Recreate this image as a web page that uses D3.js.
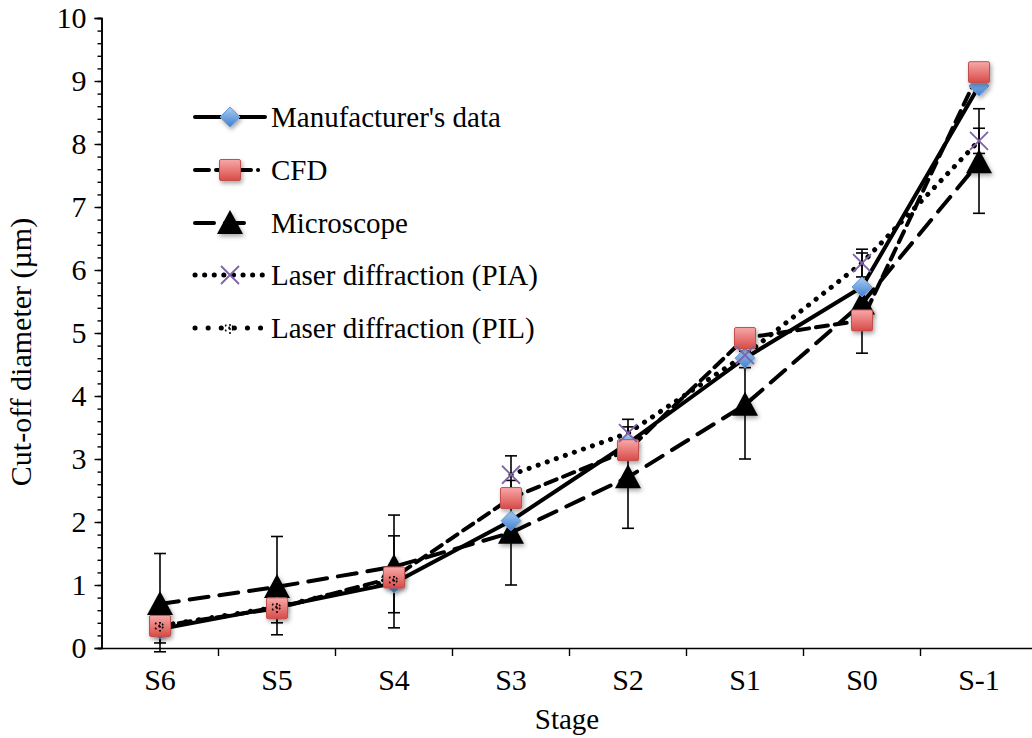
<!DOCTYPE html>
<html><head><meta charset="utf-8">
<script src="https://cdn.jsdelivr.net/npm/d3@7"></script>
<style>
html,body{margin:0;padding:0;background:#fff;}
svg{display:block;font-family:"Liberation Serif","Times New Roman",serif;}
</style></head>
<body>
<svg id="chart" width="1032" height="738"></svg>
<script>
// ---- data ----
const stages = ["S6","S5","S4","S3","S2","S1","S0","S-1"];
const manufacturer = [0.30, 0.65, 1.03, 2.02, 3.25, 4.60, 5.73, 8.92];
const cfd          = [0.35, 0.63, 1.12, 2.38, 3.14, 4.92, 5.20, 9.14];
const microscope   = [0.70, 0.97, 1.29, 1.83, 2.71, 3.86, 5.47, 7.71];
const microPlus    = [0.80, 0.80, 0.82, 0.83, 0.80, 0.85, 0.80, 0.85];
const microMinus   = [0.76, 0.76, 0.97, 0.83, 0.81, 0.86, 0.79, 0.81];
const pia          = [null, null, null, 2.75, 3.41, 4.65, 6.11, 8.05];
const piaErr       = [null, null, null, 0.30, 0.22, 0.20, 0.22, 0.20];
const pil          = [0.35, 0.65, 1.08, null, null, null, null, null];
const pilPlus      = [0.27, 0.25, 0.70, null, null, null, null, null];
const pilMinus     = [0.27, 0.25, 0.52, null, null, null, null, null];
const yTicks = [0,1,2,3,4,5,6,7,8,9,10];
const legendLabels = ["Manufacturer's data","CFD","Microscope","Laser diffraction (PIA)","Laser diffraction (PIL)"];

// ---- layout ----
const svg = d3.select("#chart");
const x = d3.scaleBand().domain(stages).range([101.5, 1037.5]);
const y = d3.scaleLinear().domain([0, 10]).range([648, 18]);
const cx = s => x(s) + x.bandwidth() / 2;
const FONT = "Liberation Serif, Times New Roman, serif";

const defs = svg.append("defs");
const gb = defs.append("linearGradient").attr("id","gBlue").attr("x1",0).attr("y1",0).attr("x2",0).attr("y2",1);
gb.append("stop").attr("offset","0%").attr("stop-color","#a9cdf2");
gb.append("stop").attr("offset","100%").attr("stop-color","#3f7fcf");
const gr = defs.append("linearGradient").attr("id","gRed").attr("x1",0).attr("y1",0).attr("x2",0).attr("y2",1);
gr.append("stop").attr("offset","0%").attr("stop-color","#f7a9a9");
gr.append("stop").attr("offset","100%").attr("stop-color","#d84a47");
const sh = defs.append("filter").attr("id","shadow").attr("x","-50%").attr("y","-50%").attr("width","200%").attr("height","200%");
sh.append("feDropShadow").attr("dx",1.5).attr("dy",2.5).attr("stdDeviation",2).attr("flood-color","#000").attr("flood-opacity",0.35);

// ---- axes ----
const yAxis = svg.append("g").attr("transform","translate(101.5,0)")
  .call(d3.axisLeft(y).tickValues(yTicks).tickSize(7).tickPadding(8).tickFormat(d3.format("d")));
const yMinor = svg.append("g").attr("transform","translate(101.5,0)")
  .call(d3.axisLeft(y).tickValues(d3.range(0, 10.01, 0.2)).tickSize(4).tickFormat(""));
[yAxis, yMinor].forEach(g => {
  g.selectAll("path").attr("stroke","#000").attr("stroke-width",1.6);
  g.selectAll("line").attr("stroke","#000").attr("stroke-width",1.4);
});
yAxis.selectAll("text").attr("font-size",30).attr("fill","#000").attr("font-family",FONT);

const xAxis = svg.append("g").attr("transform","translate(0,648)")
  .call(d3.axisBottom(x).tickSize(0).tickPadding(21));
xAxis.select("path").attr("stroke","#000").attr("stroke-width",1.6);
xAxis.selectAll("text").attr("font-size",30).attr("fill","#000").attr("font-family",FONT);
svg.append("g").selectAll("line").data(stages.slice(1)).join("line")
  .attr("x1", d => x(d)).attr("x2", d => x(d))
  .attr("y1", 648).attr("y2", 656).attr("stroke","#000").attr("stroke-width",1.4);

svg.append("text").attr("x", 567).attr("y", 729).attr("text-anchor","middle")
  .attr("font-size",29).text("Stage");
svg.append("text").attr("transform","translate(31,352) rotate(-90)").attr("text-anchor","middle")
  .attr("font-size",30).text("Cut-off diameter (µm)");

// ---- error bars ----
const errG = svg.append("g").attr("stroke","#000").attr("stroke-width",1.6).attr("fill","none");
function errorBars(vals, plus, minus) {
  stages.forEach((s, i) => {
    if (vals[i] == null || plus[i] == null) return;
    const hi = y(vals[i] + plus[i]), lo = y(vals[i] - minus[i]), xc = cx(s);
    errG.append("line").attr("x1",xc).attr("x2",xc).attr("y1",hi).attr("y2",lo);
    errG.append("line").attr("x1",xc-6).attr("x2",xc+6).attr("y1",hi).attr("y2",hi);
    errG.append("line").attr("x1",xc-6).attr("x2",xc+6).attr("y1",lo).attr("y2",lo);
  });
}
errorBars(microscope, microPlus, microMinus);
errorBars(pia, piaErr, piaErr);
errorBars(pil, pilPlus, pilMinus);

// ---- series ----
const series = [
  {vals:manufacturer, dash:null, legDash:null, legEnd:265, w:4, marker:"diamond"},
  {vals:cfd, dash:"12,7", legDash:"14,7,14,7,14,7,0.1,7,0.1,7", legEnd:265, w:4, marker:"square"},
  {vals:microscope, dash:"19,11", legDash:"19,11", legEnd:252, w:4, marker:"triangle"},
  {vals:pia, dash:"0.1,9.5", legDash:"0.1,9.5", legEnd:265, w:5, marker:"x"},
  {vals:pil, dash:"0.1,13", legDash:"0.1,13", legEnd:265, w:5, marker:"star"}
];
const line = d3.line().defined(d => d.v != null).x(d => cx(d.s)).y(d => y(d.v));

function drawMarker(g, type, px, py) {
  if (type === "diamond") {
    g.append("path").attr("d", `M${px},${py-10}L${px+10},${py}L${px},${py+10}L${px-10},${py}Z`)
      .attr("fill","url(#gBlue)").attr("stroke","#6a9be0").attr("stroke-width",1).attr("filter","url(#shadow)");
  } else if (type === "square") {
    g.append("rect").attr("x",px-10.5).attr("y",py-10.5).attr("width",21).attr("height",21).attr("rx",1.5)
      .attr("fill","url(#gRed)").attr("stroke","#c0504d").attr("stroke-width",1).attr("filter","url(#shadow)");
  } else if (type === "triangle") {
    g.append("path").attr("d", `M${px},${py-13}L${px+13},${py+11}L${px-13},${py+11}Z`)
      .attr("fill","#000").attr("filter","url(#shadow)");
  } else if (type === "x") {
    g.append("path").attr("d", `M${px-9},${py-9}L${px+9},${py+9}M${px+9},${py-9}L${px-9},${py+9}`)
      .attr("stroke","#7f63a7").attr("stroke-width",1.8).attr("fill","none");
  } else if (type === "star") {
    g.append("path").attr("d", d3.symbol(d3.symbolAsterisk, 90)()).attr("transform",`translate(${px},${py})`)
      .attr("stroke","#000").attr("stroke-width",2).attr("stroke-dasharray","1.5,2.5").attr("fill","none");
  }
}

const lineG = svg.append("g");
series.forEach(sr => {
  const data = stages.map((s, i) => ({s, v: sr.vals[i]}));
  lineG.append("path").attr("d", line(data)).attr("fill","none").attr("stroke","#000")
    .attr("stroke-width", sr.w).attr("stroke-linecap","round").attr("stroke-linejoin","round")
    .attr("stroke-dasharray", sr.dash);
});
const markG = svg.append("g");
[2, 0, 1, 3, 4].forEach(k => {
  const sr = series[k];
  stages.forEach((s, i) => {
    if (sr.vals[i] == null) return;
    drawMarker(markG, sr.marker, cx(s), y(sr.vals[i]));
  });
});

// ---- legend ----
const leg = svg.append("g");
const rowY = [117, 170, 223, 275, 328];
series.forEach((sr, i) => {
  const ry = rowY[i];
  leg.append("line").attr("x1",195).attr("x2",sr.legEnd).attr("y1",ry).attr("y2",ry)
    .attr("stroke","#000").attr("stroke-width",sr.w).attr("stroke-linecap","round")
    .attr("stroke-dasharray", sr.legDash);
  drawMarker(leg, sr.marker, 230, ry);
  leg.append("text").attr("x",271).attr("y",ry+10).attr("font-size",29).text(legendLabels[i]);
});
</script>
</body></html>
